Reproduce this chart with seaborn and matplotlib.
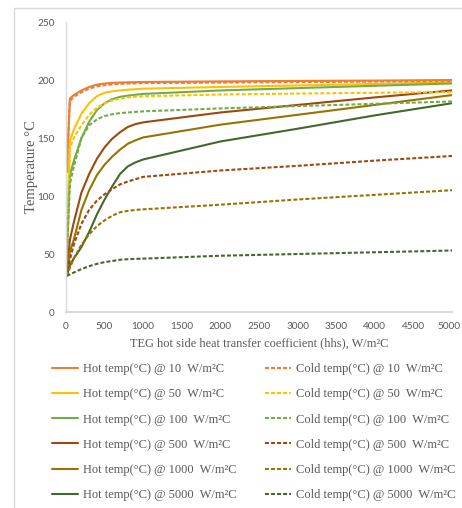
import numpy as np
import pandas as pd
import matplotlib
matplotlib.use("Agg")
import matplotlib.pyplot as plt
import matplotlib.transforms as mtransforms
from matplotlib.lines import Line2D
import seaborn as sns

# ---- data ----
hhs = [10, 50, 100, 200, 300, 400, 500, 600, 700, 800, 900, 1000, 2000, 3000, 4000, 5000]

hot_10 = [122, 184, 187, 191, 194, 196, 197, 197.5, 197.8, 198, 198.2, 198.3, 198.8, 199.2, 199.5, 200]
cold_10 = [120, 182, 185.5, 189.5, 192.5, 194.5, 195.5, 196.2, 196.7, 197, 197.1, 197.3, 197.8, 198.2, 198.6, 199]
hot_50 = [55, 147, 157, 171, 180, 186, 189, 190.3, 191, 191.6, 192.1, 192.5, 194, 195.3, 196.6, 198]
cold_50 = [50, 141, 150, 161, 170, 176, 180, 182.5, 184, 185, 185.6, 186, 187.5, 188.3, 189, 189.5]
hot_100 = [47, 118, 130, 150, 164, 174, 180, 183.5, 185.5, 186.5, 187.3, 188, 191, 193, 195, 197]
cold_100 = [44, 110, 125, 150, 161, 166, 169, 170.5, 171.5, 172, 172.5, 173, 175.5, 177.5, 179.5, 181.5]
hot_500 = [33, 62, 77, 103, 119, 132, 142, 149.5, 155, 159.5, 162, 163.5, 172, 178.5, 185, 191]
cold_500 = [31, 45, 58, 76, 88, 96, 101.5, 106, 110, 112.5, 114.5, 116.5, 122, 126, 130.5, 134.5]
hot_1000 = [33, 52, 62, 88, 105, 118, 127, 134, 140, 145, 148, 150.5, 161.5, 170, 178.5, 187]
cold_1000 = [31, 38, 46, 58, 67, 74, 79, 83, 86, 87.2, 88, 88.5, 92.5, 97, 101, 105]
hot_5000 = [32, 40, 46, 56, 69, 84, 97, 108.5, 119, 125.5, 129, 131.5, 147, 158, 169.5, 180]
cold_5000 = [31, 32.5, 34, 37, 39.5, 41.5, 43, 44, 45, 45.5, 45.8, 46, 48.5, 50, 51.5, 53]

levels = ["10", "50", "100", "500", "1000", "5000"]
hot_series = [hot_10, hot_50, hot_100, hot_500, hot_1000, hot_5000]
cold_series = [cold_10, cold_50, cold_100, cold_500, cold_1000, cold_5000]
colors = ["#ED7D31", "#FFC000", "#70AD47", "#9E480E", "#997300", "#43682B"]

x_ticks = [0, 500, 1000, 1500, 2000, 2500, 3000, 3500, 4000, 4500, 5000]
y_ticks = [0, 50, 100, 150, 200, 250]

# ---- build long table ----
rows = []
hot_labels, cold_labels = [], []
for lv, h, c in zip(levels, hot_series, cold_series):
    hl = f"Hot temp(°C) @ {lv}  W/m²C"
    cl = f"Cold temp(°C) @ {lv}  W/m²C"
    hot_labels.append(hl)
    cold_labels.append(cl)
    for xv, hv, cv in zip(hhs, h, c):
        rows.append((xv, hv, hl))
        rows.append((xv, cv, cl))
df = pd.DataFrame(rows, columns=["hhs", "temp", "series"])

order = hot_labels + cold_labels
palette = {l: col for l, col in zip(hot_labels, colors)}
palette.update({l: col for l, col in zip(cold_labels, colors)})
dash_pat = (1.9, 1.0)
dashes = {l: "" for l in hot_labels}
dashes.update({l: dash_pat for l in cold_labels})

# ---- figure ----
sns.set_theme(style="white")
plt.rcParams["font.family"] = ["Liberation Serif", "DejaVu Sans"]

W, H = 462, 508
fig = plt.figure(figsize=(W / 100, H / 100), dpi=100)
fig.patch.set_facecolor("white")

# outer chart border (Excel style)
fig.add_artist(Line2D([14 / W, 1.0], [1 - 8 / H, 1 - 8 / H], color="#D9D9D9", lw=1.0,
                      transform=fig.transFigure))
fig.add_artist(Line2D([14 / W, 14 / W], [0, 1 - 8 / H], color="#D9D9D9", lw=1.0,
                      transform=fig.transFigure))

ax = fig.add_axes([66 / W, 1 - 312 / H, (452 - 66) / W, (312 - 22) / H])
sns.lineplot(data=df, x="hhs", y="temp", hue="series", style="series",
             hue_order=order, style_order=order, palette=palette, dashes=dashes,
             linewidth=1.5, legend=False, ax=ax, sort=False)

ax.set_xlim(0, 5000)
ax.set_ylim(0, 250)
ax.set_xticks(x_ticks)
ax.set_yticks(y_ticks)
ax.set_xticklabels([str(t) for t in x_ticks])
ax.set_yticklabels([str(t) for t in y_ticks])
ax.tick_params(axis="both", length=0, labelsize=7.2, labelcolor="#595959")
ax.tick_params(axis="y", pad=8)
ax.tick_params(axis="x", pad=7)
for lab in ax.get_xticklabels() + ax.get_yticklabels():
    lab.set_fontfamily(["Lato", "DejaVu Sans"])
# keep the last x tick label inside the canvas
last = ax.get_xticklabels()[-1]
last.set_transform(last.get_transform() +
                   mtransforms.ScaledTranslation(-3 / 100, 0, fig.dpi_scale_trans))
for s in ["top", "right"]:
    ax.spines[s].set_visible(False)
ax.spines["left"].set_color("#D9D9D9")
ax.spines["left"].set_linewidth(1.0)
ax.spines["bottom"].set_color("#D9D9D9")
ax.spines["bottom"].set_linewidth(1.5)
ax.grid(False)

ax.set_xlabel("TEG hot side heat transfer coefficient (hhs), W/m²C", fontsize=8.9,
              color="#595959", labelpad=5)
ax.set_ylabel("Temperature °C", fontsize=10.5, color="#595959")
ax.yaxis.set_label_coords(-0.072, 0.5)

# legend
handles = [Line2D([], [], color=c, lw=1.5) for c in colors] + \
          [Line2D([], [], color=c, lw=1.5, dashes=dash_pat) for c in colors]
fig.legend(handles, order, ncol=2, loc="upper left",
           bbox_to_anchor=(52 / W, 1 - 363 / H), frameon=False,
           fontsize=9, labelcolor="#595959", handlelength=2.1,
           handletextpad=0.4, columnspacing=2.25, labelspacing=1.06,
           borderaxespad=0, borderpad=0)

fig.savefig("out.png", dpi=100, facecolor="white")
